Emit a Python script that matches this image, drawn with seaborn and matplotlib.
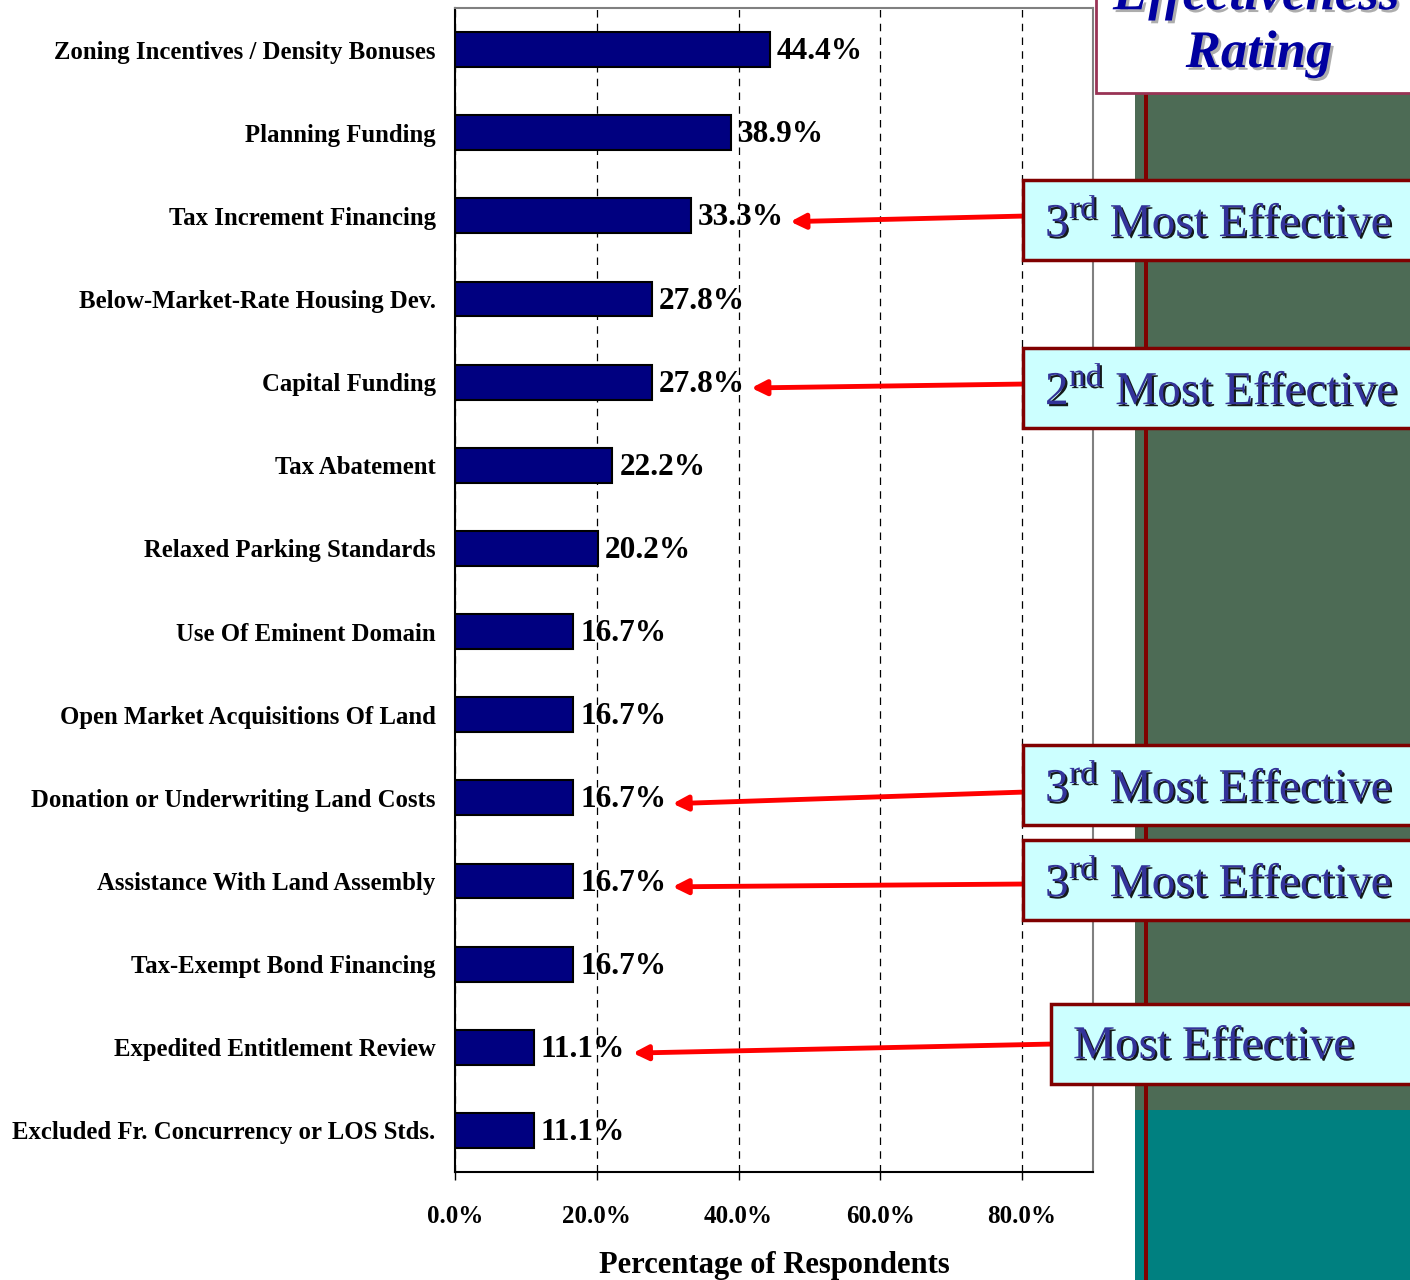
import matplotlib
matplotlib.use("Agg")
import matplotlib.pyplot as plt
import matplotlib.patches as mpatches
import matplotlib.patheffects as pe
import seaborn as sns

# ─── Datos ───────────────────────────────────────────────────────────────
categories = [
    "Zoning Incentives / Density Bonuses",
    "Planning Funding",
    "Tax Increment Financing",
    "Below-Market-Rate Housing Dev.",
    "Capital Funding",
    "Tax Abatement",
    "Relaxed Parking Standards",
    "Use Of Eminent Domain",
    "Open Market Acquisitions Of Land",
    "Donation or Underwriting Land Costs",
    "Assistance With Land Assembly",
    "Tax-Exempt Bond Financing",
    "Expedited Entitlement Review",
    "Excluded Fr. Concurrency or LOS Stds.",
]
percentages = [44.4, 38.9, 33.3, 27.8, 27.8, 22.2, 20.2,
               16.7, 16.7, 16.7, 16.7, 16.7, 11.1, 11.1]

x_ticks = [0, 20, 40, 60, 80]

# callouts: category index -> rating text
callout_index = [2, 4, 9, 10, 12]
callout_text = [r"3$^{\mathrm{rd}}$ Most Effective",
                r"2$^{\mathrm{nd}}$ Most Effective",
                r"3$^{\mathrm{rd}}$ Most Effective",
                r"3$^{\mathrm{rd}}$ Most Effective",
                "Most Effective"]

# ─── Estilo ──────────────────────────────────────────────────────────────
sns.set_theme(style="white")
plt.rcParams["font.family"] = ["Liberation Serif", "DejaVu Serif"]
plt.rcParams["mathtext.fontset"] = "custom"
plt.rcParams["mathtext.rm"] = "Liberation Serif"
plt.rcParams.update({"text.color": "black", "axes.labelcolor": "black",
                     "xtick.color": "black", "ytick.color": "black"})

W, H = 1410, 1280
fig = plt.figure(figsize=(W / 100, H / 100), dpi=100)


def fx(px):
    return px / W


def fy(py):
    return 1 - py / H


# panel decorativo derecho
fig.patches.append(mpatches.Rectangle((fx(1135), fy(1110)), fx(W - 1135), fy(90) - fy(1110),
                                      transform=fig.transFigure, facecolor="#4D6B55", edgecolor="none", zorder=0))
fig.patches.append(mpatches.Rectangle((fx(1135), 0), fx(W - 1135), fy(1110),
                                      transform=fig.transFigure, facecolor="#008080", edgecolor="none", zorder=0))
fig.patches.append(mpatches.Rectangle((fx(1144), 0), fx(4), fy(90),
                                      transform=fig.transFigure, facecolor="#800000", edgecolor="none", zorder=0.5))

# cuadro del título
fig.patches.append(mpatches.Rectangle((fx(1096), fy(93)), fx(W - 1096 + 10), fy(-10) - fy(93),
                                      transform=fig.transFigure, facecolor="white", edgecolor="#993355",
                                      linewidth=2, zorder=1))
shadow = [pe.withSimplePatchShadow(offset=(2, -2), shadow_rgbFace="#999999", alpha=0.8)]
fig.text(fx(1256), fy(-4), "Effectiveness", ha="center", va="center", fontsize=38,
         fontweight="bold", fontstyle="italic", color="#0000A0", path_effects=shadow, zorder=2)
fig.text(fx(1259), fy(54), "Rating", ha="center", va="center", fontsize=38,
         fontweight="bold", fontstyle="italic", color="#0000A0", path_effects=shadow, zorder=2)

# ─── Barras ──────────────────────────────────────────────────────────────
ax = fig.add_axes([fx(455), fy(1172), fx(1093 - 455), fy(8) - fy(1172)])
ax.set_facecolor("white")
sns.barplot(x=percentages, y=categories, orient="h", color="#000080",
            edgecolor="black", linewidth=1.5, width=0.42, saturation=1, ax=ax, zorder=2)

ax.set_xlim(0, 90)
ax.set_ylim(len(categories) - 0.5, -0.5)
ax.set_xticks(x_ticks)
ax.set_xticklabels([f"{t:.1f}%" for t in x_ticks], fontsize=18, fontweight="bold")
ax.set_yticks(range(len(categories)))
ax.set_yticklabels(categories, fontsize=17.8, fontweight="bold")
ax.tick_params(axis="x", direction="out", length=6, width=1, pad=18, bottom=True)
ax.tick_params(axis="y", length=0, pad=14)
ax.grid(axis="x", color="black", linestyle=(0, (6, 5)), linewidth=0.9, zorder=0)
ax.set_axisbelow(True)
for side in ["top", "right"]:
    ax.spines[side].set_color("#808080")
    ax.spines[side].set_linewidth(1.5)
for side in ["left", "bottom"]:
    ax.spines[side].set_color("black")
    ax.spines[side].set_linewidth(1.5)
ax.set_xlabel("Percentage of Respondents", fontsize=22, fontweight="bold", labelpad=16)
ax.set_ylabel("")

for i, v in enumerate(percentages):
    ax.annotate(f"{v:.1f}%", xy=(v, i), xytext=(5, -1.5), textcoords="offset points",
                ha="left", va="center", fontsize=22.5, fontweight="bold", zorder=3)

# ─── Cuadros de calificación con flechas ─────────────────────────────────
box_top = [180, 348, 745, 840, 1004]
box_left = [1023, 1023, 1023, 1023, 1051]
text_left = [1045, 1045, 1045, 1045, 1073]
arrow_tail = [216, 384, 792, 884, 1044]
text_shadow = [pe.withSimplePatchShadow(offset=(1.5, -1.5), shadow_rgbFace="black", alpha=0.9)]
for idx, label, top, left, tleft, tail in zip(callout_index, callout_text, box_top,
                                             box_left, text_left, arrow_tail):
    fig.patches.append(mpatches.Rectangle((fx(left), fy(top + 80)), fx(W - left + 10), fy(top) - fy(top + 80),
                                          transform=fig.transFigure, facecolor="#CCFFFF",
                                          edgecolor="#800000", linewidth=2.5, zorder=3))
    fig.text(fx(tleft), fy(top + 43), label, ha="left", va="center", fontsize=34,
             color="#333399", path_effects=text_shadow, zorder=4)
    ax.annotate("", xy=(percentages[idx] + 14, idx + 0.07),
                xytext=(fx(left + 3), fy(tail)), textcoords="figure fraction",
                arrowprops=dict(arrowstyle="-|>", color="#FF0000", lw=3.5, mutation_scale=22,
                                shrinkA=0, shrinkB=0),
                annotation_clip=False, zorder=5)

fig.savefig("out.png", dpi=100)
